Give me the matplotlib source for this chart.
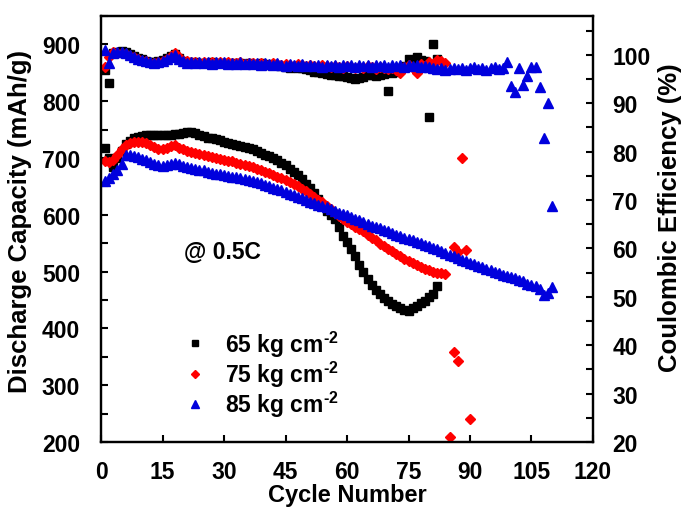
import numpy as np
import matplotlib.pyplot as plt
from matplotlib.ticker import MultipleLocator

plt.rcParams['font.family'] = 'Liberation Sans'
plt.rcParams['font.weight'] = 'bold'
plt.rcParams['mathtext.fontset'] = 'custom'
plt.rcParams['mathtext.bf'] = 'Liberation Sans:bold'
plt.rcParams['mathtext.rm'] = 'Liberation Sans:bold'
plt.rcParams['mathtext.default'] = 'bf'

# discharge capacity (mAh/g), one value per cycle starting at cycle 1
cap_65 = [718, 700, 684, 700, 712, 724, 730, 735, 737, 739,
          740, 740, 740, 740, 740, 740, 741, 742, 743, 744,
          745, 746, 744, 741, 738, 736, 735, 733, 731, 729,
          727, 725, 722, 721, 719, 717, 715, 712, 709, 706,
          703, 700, 696, 692, 687, 681, 676, 670, 663, 655,
          647, 638, 628, 617, 607, 600, 593, 578, 563, 552,
          540, 528, 512, 499, 487, 476, 467, 460, 454, 448,
          443, 439, 436, 432, 431, 436, 440, 444, 448, 455,
          461, 475]
cap_75 = [695, 693, 696, 706, 716, 722, 727, 729, 729, 728,
          726, 723, 719, 716, 715, 717, 721, 722, 718, 715,
          713, 711, 709, 707, 705, 703, 702, 700, 698, 697,
          695, 694, 692, 690, 688, 686, 684, 681, 679, 676,
          673, 670, 667, 664, 661, 658, 654, 650, 646, 641,
          636, 631, 626, 622, 616, 610, 604, 598, 593, 588,
          584, 579, 575, 571, 565, 560, 555, 549, 545, 540,
          536, 531, 527, 523, 519, 515, 511, 508, 505, 502,
          500, 498, 497, 496]
cap_75_tail_cyc = [86, 87]
cap_75_tail = [543, 534]
cap_85 = [660, 665, 672, 678, 690, 705, 706, 704, 702, 699,
          696, 693, 690, 688, 686, 688, 690, 692, 689, 686,
          684, 683, 681, 679, 678, 676, 674, 672, 671, 670,
          669, 667, 666, 664, 663, 661, 659, 658, 656, 653,
          651, 648, 645, 643, 640, 637, 634, 631, 629, 626,
          623, 620, 617, 615, 613, 610, 607, 604, 602, 599,
          596, 593, 590, 587, 584, 581, 578, 576, 573, 571,
          568, 565, 562, 560, 557, 555, 552, 550, 547, 545,
          542, 539, 536, 533, 530, 527, 524, 520, 518, 515,
          513, 510, 508, 505, 502, 499, 497, 494, 492, 490,
          488, 486, 483, 478, 476, 474, 470, 458, 462, 472]

# coulombic efficiency (%), one value per cycle starting at cycle 1
ce_65 = [96.9, 94.2, 100.3, 100.6, 100.7, 100.5, 100.2, 99.8, 99.4, 99.1,
         98.8, 98.5, 98.4, 98.6, 98.9, 99.3, 99.8, 100.2, 99.4, 98.7,
         98.4, 98.3, 98.4, 98.2, 98.3, 98.2, 98.4, 98.3, 98.2, 98.3,
         98.2, 98.1, 98.3, 98.2, 98.1, 98.2, 98.0, 98.1, 98.2, 98.0,
         97.9, 98.0, 97.8, 97.6, 97.5, 97.3, 97.4, 97.2, 97.3, 97.1,
         96.8, 96.5, 96.4, 96.2, 96.0, 95.8, 95.9, 95.6, 95.5, 95.3,
         95.2, 95.0, 95.1, 95.4, 95.8, 95.9, 95.5, 95.8, 96.0, 92.6,
         96.3, 96.5, 97.0, 97.6, 99.2, 98.8, 99.6, 99.0, 98.6, 87.2,
         102.3, 99.1]
ce_75 = [97.5, 99.6, 100.5, 100.4, 100.3, 100.1, 99.8, 99.5, 99.1, 98.8,
         98.6, 98.3, 98.2, 98.4, 98.7, 99.1, 99.7, 100.4, 99.6, 98.8,
         98.6, 98.4, 98.5, 98.3, 98.4, 98.2, 98.4, 98.3, 98.5, 98.2,
         98.4, 98.3, 98.2, 98.4, 98.1, 98.3, 98.2, 98.0, 98.3, 98.1,
         97.9, 98.2, 98.0, 97.8, 98.1, 97.9, 97.7, 98.0, 97.8, 97.6,
         97.9, 97.7, 97.5, 97.8, 97.6, 97.4, 97.7, 97.5, 97.3, 97.6,
         97.4, 97.2, 97.5, 97.3, 97.6, 97.4, 97.1, 97.5, 97.3, 97.0,
         97.2, 96.8, 96.3, 97.4, 97.8, 97.2, 96.3, 98.0, 97.6, 98.4,
         98.0, 99.0, 98.6, 98.3, 21.0, 38.6, 36.7, 78.6, 59.6, 24.7]
ce_85 = [101.0, 98.3, 100.3, 100.6, 100.5, 100.4, 100.0, 99.6, 99.2, 98.9,
         98.6, 98.4, 98.3, 98.5, 98.8, 99.2, 99.6, 100.0, 99.2, 98.6,
         98.3, 98.4, 98.2, 98.5, 98.2, 98.4, 98.1, 98.5, 98.2, 98.4,
         98.1, 98.3, 98.0, 98.4, 98.1, 98.3, 98.0, 98.3, 97.9, 98.2,
         98.0, 97.8, 98.2, 97.9, 97.7, 98.1, 97.8, 97.6, 98.0, 97.7,
         97.9, 97.6, 97.8, 97.5, 97.9, 97.6, 97.8, 97.5, 97.9, 97.6,
         97.8, 97.5, 97.9, 97.6, 97.8, 97.5, 97.9, 97.6, 97.8, 97.5,
         97.9, 97.6, 97.8, 97.5, 97.9, 97.6, 97.8, 97.5, 97.7, 97.4,
         97.3, 97.0, 97.2, 96.9, 97.1, 97.3, 97.0, 97.2, 96.9, 97.2,
         97.4, 97.0, 97.3, 96.9, 97.2, 97.4, 97.0, 97.3, 98.4, 93.6,
         92.4, 97.3, 93.8, 95.7, 97.5, 97.5, 93.4, 82.7, 90.1, 68.7]

labels = [r'65 kg cm$^{\text{-2}}$', r'75 kg cm$^{\text{-2}}$',
          r'85 kg cm$^{\text{-2}}$']
colors = ['black', '#ff0000', '#0000dd']
markers = ['s', 'D', '^']
msizes = [5.5, 5.5, 7]


def cycles(vals):
    return np.arange(1, len(vals) + 1)


fig = plt.figure(figsize=(6.82, 5.10), dpi=100)
ax = fig.add_axes([0.1481, 0.1314, 0.7214, 0.8353])
ax2 = ax.twinx()

caps = [cap_65, cap_75, cap_85]
ces = [ce_65, ce_75, ce_85]
for i in range(3):
    ax.plot(cycles(caps[i]), caps[i], ls='none', marker=markers[i], ms=msizes[i],
            color=colors[i], mec=colors[i], label=labels[i])
    if i == 1:
        ax.plot(cap_75_tail_cyc, cap_75_tail, ls='none', marker=markers[i],
                ms=msizes[i], color=colors[i])
for i in range(3):
    ax2.plot(cycles(ces[i]), ces[i], ls='none', marker=markers[i], ms=msizes[i],
             color=colors[i], mec=colors[i])

ax.set_xlim(0, 120)
ax.set_ylim(200, 950)
ax2.set_ylim(20, 108)
ax.xaxis.set_major_locator(MultipleLocator(15))
ax.yaxis.set_minor_locator(MultipleLocator(50))
ax2.yaxis.set_minor_locator(MultipleLocator(5))
ax.set_yticks(np.arange(200, 901, 100))
ax2.set_yticks(np.arange(20, 101, 10))

for a in (ax, ax2):
    for s in a.spines.values():
        s.set_linewidth(1.6)
ax.tick_params(axis='both', which='both', direction='in', width=1.5, length=5,
               labelsize=16.5)
ax.tick_params(axis='x', pad=13)
ax.tick_params(axis='y', pad=15)
ax2.tick_params(axis='y', which='both', direction='in', width=1.5, length=5,
                labelsize=16.5, pad=14)

fig.text(0.029, 0.565, 'Discharge Capacity (mAh/g)', rotation=90,
         ha='center', va='center', fontsize=18.5)
fig.text(0.982, 0.573, 'Coulombic Efficiency (%)', rotation=90,
         ha='center', va='center', fontsize=18.5)
fig.text(0.509, 0.029, 'Cycle Number', ha='center', va='center', fontsize=17)

ax.text(0.246, 0.446, '@ 0.5C', transform=ax.transAxes, ha='center',
        va='center', fontsize=16.5)

leg = ax.legend(loc='upper left', bbox_to_anchor=(0.13, 0.315), frameon=False,
                fontsize=16.5, handlelength=0.8, handletextpad=0.9,
                labelspacing=0.0, markerscale=0.75)

fig.savefig('out.png', dpi=100)
